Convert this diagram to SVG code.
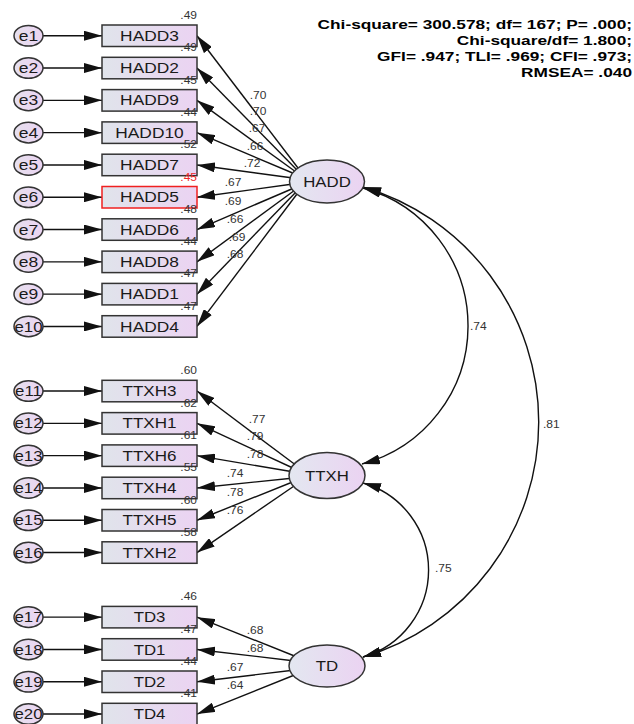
<svg xmlns="http://www.w3.org/2000/svg" width="634" height="724" viewBox="0 0 634 724">
<style>
text{font-family:"Liberation Sans",Arial,sans-serif}
.lbl{font-size:14px;fill:#1a1a1a;text-anchor:middle}
.num{font-size:10px;fill:#333;text-anchor:end}
.ld{font-size:10px;fill:#333;text-anchor:middle}
.cv{font-size:10px;fill:#333;text-anchor:start}
.red{fill:#f02828}
.stat{font-size:13px;font-weight:bold;fill:#000;text-anchor:end}
.box{fill:url(#gb);stroke:#333;stroke-width:1.5}
.boxr{fill:url(#gb);stroke:#f02020;stroke-width:1.5}
.err{fill:url(#ge);stroke:#333;stroke-width:1.5}
.lat{fill:url(#gl);stroke:#333;stroke-width:1.5}
.c{stroke:#111;stroke-width:1.4;fill:none;marker-end:url(#ah)}
.cc{stroke:#111;stroke-width:1.4;fill:none;marker-end:url(#ah);marker-start:url(#ah)}
</style>
<defs>
<linearGradient id="gb" x1="0" y1="0" x2="1" y2="0"><stop offset="0" stop-color="#e0e4eb"/><stop offset="1" stop-color="#ebd3f2"/></linearGradient>
<linearGradient id="ge" x1="0" y1="0" x2="1" y2="0"><stop offset="0" stop-color="#e6e0ee"/><stop offset="1" stop-color="#ebd4f2"/></linearGradient>
<linearGradient id="gl" x1="0" y1="0" x2="1" y2="0"><stop offset="0" stop-color="#e3e7f0"/><stop offset="1" stop-color="#ebd3f2"/></linearGradient>
<marker id="ah" markerUnits="userSpaceOnUse" markerWidth="18" markerHeight="10" viewBox="0 0 18 10" refX="18" refY="5" orient="auto-start-reverse"><path d="M0,0 L18,5 L0,10 z" fill="#111"/></marker>
</defs>
<rect width="634" height="724" fill="#fff"/>

<g id="connectors">
<line class="c" x1="43" y1="35.75" x2="102" y2="35.75"/>
<line class="c" x1="43" y1="68.05" x2="102" y2="68.05"/>
<line class="c" x1="43" y1="100.35" x2="102" y2="100.35"/>
<line class="c" x1="43" y1="132.65" x2="102" y2="132.65"/>
<line class="c" x1="43" y1="164.95" x2="102" y2="164.95"/>
<line class="c" x1="43" y1="197.25" x2="102" y2="197.25"/>
<line class="c" x1="43" y1="229.55" x2="102" y2="229.55"/>
<line class="c" x1="43" y1="261.85" x2="102" y2="261.85"/>
<line class="c" x1="43" y1="294.15" x2="102" y2="294.15"/>
<line class="c" x1="43" y1="326.45" x2="102" y2="326.45"/>
<line class="c" x1="43" y1="391.05" x2="102" y2="391.05"/>
<line class="c" x1="43" y1="423.35" x2="102" y2="423.35"/>
<line class="c" x1="43" y1="455.65" x2="102" y2="455.65"/>
<line class="c" x1="43" y1="487.95" x2="102" y2="487.95"/>
<line class="c" x1="43" y1="520.25" x2="102" y2="520.25"/>
<line class="c" x1="43" y1="552.55" x2="102" y2="552.55"/>
<line class="c" x1="43" y1="617.15" x2="102" y2="617.15"/>
<line class="c" x1="43" y1="649.45" x2="102" y2="649.45"/>
<line class="c" x1="43" y1="681.75" x2="102" y2="681.75"/>
<line class="c" x1="43" y1="714.05" x2="102" y2="714.05"/>

<line class="c" x1="298" y1="168" x2="197" y2="35.75"/>
<line class="c" x1="297" y1="170" x2="197" y2="68.05"/>
<line class="c" x1="296" y1="172" x2="197" y2="100.35"/>
<line class="c" x1="295" y1="174" x2="197" y2="132.65"/>
<line class="c" x1="293" y1="178" x2="197" y2="164.95"/>
<line class="c" x1="293" y1="184" x2="197" y2="197.25"/>
<line class="c" x1="294" y1="188" x2="197" y2="229.55"/>
<line class="c" x1="295" y1="190" x2="197" y2="261.85"/>
<line class="c" x1="296" y1="192" x2="197" y2="294.15"/>
<line class="c" x1="297" y1="194" x2="197" y2="326.45"/>

<line class="c" x1="297" y1="466" x2="197" y2="391.05"/>
<line class="c" x1="295" y1="469" x2="197" y2="423.35"/>
<line class="c" x1="294" y1="472" x2="197" y2="455.65"/>
<line class="c" x1="294" y1="478" x2="197" y2="487.95"/>
<line class="c" x1="295" y1="481" x2="197" y2="520.25"/>
<line class="c" x1="297" y1="484" x2="197" y2="552.55"/>

<line class="c" x1="297" y1="657" x2="197" y2="617.15"/>
<line class="c" x1="295" y1="661" x2="197" y2="649.45"/>
<line class="c" x1="295" y1="670" x2="197" y2="681.75"/>
<line class="c" x1="297" y1="674" x2="197" y2="714.05"/>

<path class="cc" d="M363,188 A143,143 0 0 1 362,464"/>
<path class="cc" d="M363,187 A245,245 0 0 1 363,657"/>
<path class="cc" d="M363,483 A90.5,90.5 0 0 1 363,657"/>

<text class="ld" transform="matrix(1.2 0 0 1 258 99)">.70</text>
<text class="ld" transform="matrix(1.2 0 0 1 258 115)">.70</text>
<text class="ld" transform="matrix(1.2 0 0 1 257 132)">.67</text>
<text class="ld" transform="matrix(1.2 0 0 1 255 150)">.66</text>
<text class="ld" transform="matrix(1.2 0 0 1 252 167)">.72</text>
<text class="ld" transform="matrix(1.2 0 0 1 233 186)">.67</text>
<text class="ld" transform="matrix(1.2 0 0 1 233 205)">.69</text>
<text class="ld" transform="matrix(1.2 0 0 1 235 223)">.66</text>
<text class="ld" transform="matrix(1.2 0 0 1 237 241)">.69</text>
<text class="ld" transform="matrix(1.2 0 0 1 235 258)">.68</text>
<text class="ld" transform="matrix(1.2 0 0 1 257 423)">.77</text>
<text class="ld" transform="matrix(1.2 0 0 1 255 440)">.79</text>
<text class="ld" transform="matrix(1.2 0 0 1 255 458)">.78</text>
<text class="ld" transform="matrix(1.2 0 0 1 235 477)">.74</text>
<text class="ld" transform="matrix(1.2 0 0 1 235 496)">.78</text>
<text class="ld" transform="matrix(1.2 0 0 1 235 514)">.76</text>
<text class="ld" transform="matrix(1.2 0 0 1 255 634)">.68</text>
<text class="ld" transform="matrix(1.2 0 0 1 255 652)">.68</text>
<text class="ld" transform="matrix(1.2 0 0 1 235 671)">.67</text>
<text class="ld" transform="matrix(1.2 0 0 1 235 689)">.64</text>
<text class="cv" transform="matrix(1.2 0 0 1 470 330)">.74</text>
<text class="cv" transform="matrix(1.2 0 0 1 543 428)">.81</text>
<text class="cv" transform="matrix(1.2 0 0 1 435 572)">.75</text>
</g>

<g id="e1"><ellipse class="err" cx="28.5" cy="35.75" rx="14.5" ry="10.3"/><text class="lbl" transform="matrix(1.25 0 0 1 28.5 40.8)">e1</text></g>
<g id="e2"><ellipse class="err" cx="28.5" cy="68.05" rx="14.5" ry="10.3"/><text class="lbl" transform="matrix(1.25 0 0 1 28.5 73.1)">e2</text></g>
<g id="e3"><ellipse class="err" cx="28.5" cy="100.35" rx="14.5" ry="10.3"/><text class="lbl" transform="matrix(1.25 0 0 1 28.5 105.4)">e3</text></g>
<g id="e4"><ellipse class="err" cx="28.5" cy="132.65" rx="14.5" ry="10.3"/><text class="lbl" transform="matrix(1.25 0 0 1 28.5 137.7)">e4</text></g>
<g id="e5"><ellipse class="err" cx="28.5" cy="164.95" rx="14.5" ry="10.3"/><text class="lbl" transform="matrix(1.25 0 0 1 28.5 170)">e5</text></g>
<g id="e6"><ellipse class="err" cx="28.5" cy="197.25" rx="14.5" ry="10.3"/><text class="lbl" transform="matrix(1.25 0 0 1 28.5 202.3)">e6</text></g>
<g id="e7"><ellipse class="err" cx="28.5" cy="229.55" rx="14.5" ry="10.3"/><text class="lbl" transform="matrix(1.25 0 0 1 28.5 234.6)">e7</text></g>
<g id="e8"><ellipse class="err" cx="28.5" cy="261.85" rx="14.5" ry="10.3"/><text class="lbl" transform="matrix(1.25 0 0 1 28.5 266.9)">e8</text></g>
<g id="e9"><ellipse class="err" cx="28.5" cy="294.15" rx="14.5" ry="10.3"/><text class="lbl" transform="matrix(1.25 0 0 1 28.5 299.2)">e9</text></g>
<g id="e10"><ellipse class="err" cx="28.5" cy="326.45" rx="14.5" ry="10.3"/><text class="lbl" transform="matrix(1.2 0 0 1 28.5 331.5)">e10</text></g>
<g id="e11"><ellipse class="err" cx="28.5" cy="391.05" rx="14.5" ry="10.3"/><text class="lbl" transform="matrix(1.2 0 0 1 28.5 396.1)">e11</text></g>
<g id="e12"><ellipse class="err" cx="28.5" cy="423.35" rx="14.5" ry="10.3"/><text class="lbl" transform="matrix(1.2 0 0 1 28.5 428.4)">e12</text></g>
<g id="e13"><ellipse class="err" cx="28.5" cy="455.65" rx="14.5" ry="10.3"/><text class="lbl" transform="matrix(1.2 0 0 1 28.5 460.7)">e13</text></g>
<g id="e14"><ellipse class="err" cx="28.5" cy="487.95" rx="14.5" ry="10.3"/><text class="lbl" transform="matrix(1.2 0 0 1 28.5 493)">e14</text></g>
<g id="e15"><ellipse class="err" cx="28.5" cy="520.25" rx="14.5" ry="10.3"/><text class="lbl" transform="matrix(1.2 0 0 1 28.5 525.3)">e15</text></g>
<g id="e16"><ellipse class="err" cx="28.5" cy="552.55" rx="14.5" ry="10.3"/><text class="lbl" transform="matrix(1.2 0 0 1 28.5 557.6)">e16</text></g>
<g id="e17"><ellipse class="err" cx="28.5" cy="617.15" rx="14.5" ry="10.3"/><text class="lbl" transform="matrix(1.2 0 0 1 28.5 622.2)">e17</text></g>
<g id="e18"><ellipse class="err" cx="28.5" cy="649.45" rx="14.5" ry="10.3"/><text class="lbl" transform="matrix(1.2 0 0 1 28.5 654.5)">e18</text></g>
<g id="e19"><ellipse class="err" cx="28.5" cy="681.75" rx="14.5" ry="10.3"/><text class="lbl" transform="matrix(1.2 0 0 1 28.5 686.8)">e19</text></g>
<g id="e20"><ellipse class="err" cx="28.5" cy="714.05" rx="14.5" ry="10.3"/><text class="lbl" transform="matrix(1.2 0 0 1 28.5 719.1)">e20</text></g>

<g id="HADD3"><rect class="box" x="102" y="25" width="95" height="21.5"/><text class="lbl" transform="matrix(1.24 0 0 1 149.5 40.8)">HADD3</text><text class="num" transform="matrix(1.2 0 0 1 197 19)">.49</text></g>
<g id="HADD2"><rect class="box" x="102" y="57.3" width="95" height="21.5"/><text class="lbl" transform="matrix(1.24 0 0 1 149.5 73.1)">HADD2</text><text class="num" transform="matrix(1.2 0 0 1 197 51.3)">.49</text></g>
<g id="HADD9"><rect class="box" x="102" y="89.6" width="95" height="21.5"/><text class="lbl" transform="matrix(1.24 0 0 1 149.5 105.4)">HADD9</text><text class="num" transform="matrix(1.2 0 0 1 197 83.6)">.45</text></g>
<g id="HADD10"><rect class="box" x="102" y="121.9" width="95" height="21.5"/><text class="lbl" transform="matrix(1.24 0 0 1 149.5 137.7)">HADD10</text><text class="num" transform="matrix(1.2 0 0 1 197 115.9)">.44</text></g>
<g id="HADD7"><rect class="box" x="102" y="154.2" width="95" height="21.5"/><text class="lbl" transform="matrix(1.24 0 0 1 149.5 170)">HADD7</text><text class="num" transform="matrix(1.2 0 0 1 197 148.2)">.52</text></g>
<g id="HADD5"><rect class="boxr" x="102" y="186.5" width="95" height="21.5"/><text class="lbl" transform="matrix(1.24 0 0 1 149.5 202.3)">HADD5</text><text class="num red" transform="matrix(1.2 0 0 1 197 180.5)">.45</text></g>
<g id="HADD6"><rect class="box" x="102" y="218.8" width="95" height="21.5"/><text class="lbl" transform="matrix(1.24 0 0 1 149.5 234.6)">HADD6</text><text class="num" transform="matrix(1.2 0 0 1 197 212.8)">.48</text></g>
<g id="HADD8"><rect class="box" x="102" y="251.1" width="95" height="21.5"/><text class="lbl" transform="matrix(1.24 0 0 1 149.5 266.9)">HADD8</text><text class="num" transform="matrix(1.2 0 0 1 197 245.1)">.44</text></g>
<g id="HADD1"><rect class="box" x="102" y="283.4" width="95" height="21.5"/><text class="lbl" transform="matrix(1.24 0 0 1 149.5 299.2)">HADD1</text><text class="num" transform="matrix(1.2 0 0 1 197 277.4)">.47</text></g>
<g id="HADD4"><rect class="box" x="102" y="315.7" width="95" height="21.5"/><text class="lbl" transform="matrix(1.24 0 0 1 149.5 331.5)">HADD4</text><text class="num" transform="matrix(1.2 0 0 1 197 309.7)">.47</text></g>

<g id="TTXH3"><rect class="box" x="102" y="380.3" width="95" height="21.5"/><text class="lbl" transform="matrix(1.22 0 0 1 149.5 396.1)">TTXH3</text><text class="num" transform="matrix(1.2 0 0 1 197 374.3)">.60</text></g>
<g id="TTXH1"><rect class="box" x="102" y="412.6" width="95" height="21.5"/><text class="lbl" transform="matrix(1.22 0 0 1 149.5 428.4)">TTXH1</text><text class="num" transform="matrix(1.2 0 0 1 197 406.6)">.62</text></g>
<g id="TTXH6"><rect class="box" x="102" y="444.9" width="95" height="21.5"/><text class="lbl" transform="matrix(1.22 0 0 1 149.5 460.7)">TTXH6</text><text class="num" transform="matrix(1.2 0 0 1 197 438.9)">.61</text></g>
<g id="TTXH4"><rect class="box" x="102" y="477.2" width="95" height="21.5"/><text class="lbl" transform="matrix(1.22 0 0 1 149.5 493)">TTXH4</text><text class="num" transform="matrix(1.2 0 0 1 197 471.2)">.55</text></g>
<g id="TTXH5"><rect class="box" x="102" y="509.5" width="95" height="21.5"/><text class="lbl" transform="matrix(1.22 0 0 1 149.5 525.3)">TTXH5</text><text class="num" transform="matrix(1.2 0 0 1 197 503.5)">.60</text></g>
<g id="TTXH2"><rect class="box" x="102" y="541.8" width="95" height="21.5"/><text class="lbl" transform="matrix(1.22 0 0 1 149.5 557.6)">TTXH2</text><text class="num" transform="matrix(1.2 0 0 1 197 535.8)">.58</text></g>

<g id="TD3"><rect class="box" x="102" y="606.4" width="95" height="21.5"/><text class="lbl" transform="matrix(1.2 0 0 1 149.5 622.2)">TD3</text><text class="num" transform="matrix(1.2 0 0 1 197 600.4)">.46</text></g>
<g id="TD1"><rect class="box" x="102" y="638.7" width="95" height="21.5"/><text class="lbl" transform="matrix(1.2 0 0 1 149.5 654.5)">TD1</text><text class="num" transform="matrix(1.2 0 0 1 197 632.7)">.47</text></g>
<g id="TD2"><rect class="box" x="102" y="671" width="95" height="21.5"/><text class="lbl" transform="matrix(1.2 0 0 1 149.5 686.8)">TD2</text><text class="num" transform="matrix(1.2 0 0 1 197 665)">.44</text></g>
<g id="TD4"><rect class="box" x="102" y="703.3" width="95" height="21.5"/><text class="lbl" transform="matrix(1.2 0 0 1 149.5 719.1)">TD4</text><text class="num" transform="matrix(1.2 0 0 1 197 697.3)">.41</text></g>

<g id="HADD"><ellipse class="lat" cx="327" cy="181.5" rx="37.5" ry="21.5"/><text class="lbl" transform="matrix(1.2 0 0 1 327 186.5)">HADD</text></g>
<g id="TTXH"><ellipse class="lat" cx="327" cy="475.5" rx="38" ry="23"/><text class="lbl" transform="matrix(1.2 0 0 1 327 480.5)">TTXH</text></g>
<g id="TD"><ellipse class="lat" cx="327" cy="666" rx="38" ry="21"/><text class="lbl" transform="matrix(1.2 0 0 1 327 671)">TD</text></g>

<g id="fit">
<text class="stat" transform="matrix(1.33 0 0 1 632 28.5)">Chi-square= 300.578; df= 167; P= .000;</text>
<text class="stat" transform="matrix(1.33 0 0 1 632 44.5)">Chi-square/df= 1.800;</text>
<text class="stat" transform="matrix(1.33 0 0 1 632 60.5)">GFI= .947; TLI= .969; CFI= .973;</text>
<text class="stat" transform="matrix(1.33 0 0 1 632 76.5)">RMSEA= .040</text>
</g>
</svg>
